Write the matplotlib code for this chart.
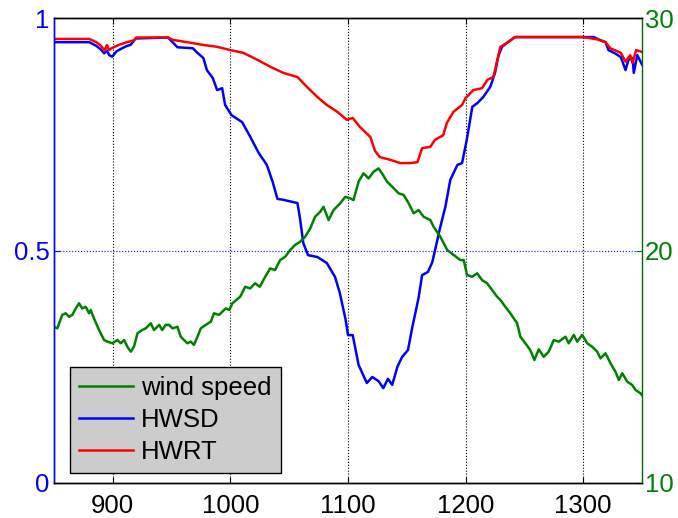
import matplotlib
matplotlib.use("Agg")
import matplotlib.pyplot as plt

plt.rcParams['font.family'] = ['Liberation Sans', 'DejaVu Sans']

# HWSD (left axis)
hwsd_x = [850, 880, 886, 890, 892.6, 895, 897, 899.6, 903, 908, 912, 915, 919.5, 947, 955, 968,
          972, 977, 980, 985, 988.7, 993, 995.5, 1001, 1010, 1017, 1024, 1031, 1036, 1040, 1045,
          1057, 1059, 1062, 1066, 1074, 1082, 1089, 1093, 1098, 1100, 1104, 1109, 1116, 1120.6,
          1126, 1130, 1134, 1137.6, 1142, 1146, 1151, 1154.7, 1160, 1163, 1168, 1171.7, 1176,
          1178.5, 1182.8, 1187, 1193, 1197, 1201, 1205.7, 1210, 1215, 1221, 1225, 1228, 1231,
          1236, 1242, 1300, 1309, 1313, 1319, 1321.5, 1327, 1332, 1336, 1338.5, 1342, 1343, 1346,
          1350]
hwsd_y = [0.948, 0.948, 0.94, 0.932, 0.924, 0.93, 0.92, 0.917, 0.928, 0.935, 0.94, 0.942, 0.956,
          0.958, 0.937, 0.935, 0.925, 0.914, 0.888, 0.871, 0.845, 0.849, 0.813, 0.791, 0.776,
          0.744, 0.710, 0.684, 0.647, 0.611, 0.609, 0.602, 0.572, 0.516, 0.490, 0.486, 0.473,
          0.443, 0.409, 0.351, 0.318, 0.318, 0.254, 0.215, 0.228, 0.219, 0.204, 0.224, 0.211,
          0.250, 0.271, 0.286, 0.335, 0.398, 0.447, 0.454, 0.475, 0.523, 0.551, 0.594, 0.652,
          0.684, 0.688, 0.738, 0.809, 0.817, 0.830, 0.852, 0.882, 0.920, 0.938, 0.948, 0.959,
          0.959, 0.959, 0.954, 0.948, 0.931, 0.924, 0.916, 0.888, 0.910, 0.914, 0.882, 0.920,
          0.900]

# HWRT (left axis)
hwrt_x = [850, 880, 886, 890, 893, 895, 896.8, 899, 905, 912, 918, 920, 947, 951, 968, 977,
          988.7, 1000, 1011, 1023, 1034, 1045, 1057, 1065, 1074, 1082, 1091, 1099, 1104, 1110,
          1119, 1123, 1127, 1136, 1144.5, 1153, 1159, 1163, 1170, 1174, 1181, 1184, 1189.6, 1197,
          1200, 1206.6, 1214, 1218.5, 1223.6, 1227, 1229.6, 1236, 1242, 1300, 1312, 1319, 1323,
          1332, 1336, 1340, 1342, 1345, 1350]
hwrt_y = [0.955, 0.955, 0.948, 0.94, 0.93, 0.942, 0.931, 0.935, 0.942, 0.948, 0.952, 0.958,
          0.958, 0.953, 0.946, 0.942, 0.938, 0.931, 0.925, 0.910, 0.895, 0.882, 0.873, 0.852,
          0.830, 0.813, 0.798, 0.781, 0.785, 0.766, 0.744, 0.714, 0.701, 0.695, 0.688, 0.688,
          0.690, 0.720, 0.723, 0.738, 0.748, 0.774, 0.798, 0.813, 0.828, 0.845, 0.849, 0.867,
          0.873, 0.910, 0.938, 0.948, 0.959, 0.959, 0.954, 0.948, 0.935, 0.925, 0.906, 0.920,
          0.903, 0.931, 0.927]

# wind speed (right axis)
wind_x = [850, 852.8, 857, 860, 862.8, 865.6, 868.5, 871.3, 874, 877, 879.8, 881.2, 884, 888.3,
          892.6, 895.4, 899.6, 903.9, 906.8, 909.6, 912.4, 915.3, 918, 921, 925, 928, 932.3, 935,
          939.4, 942, 945, 947.9, 950.7, 955, 957.8, 960.6, 963.4, 966.3, 969, 972, 974.8, 979,
          983.4, 986, 990.4, 993.2, 996, 999, 1001.7, 1008.3, 1012.6, 1016.8, 1021, 1025, 1029.6,
          1033.8, 1038, 1042.3, 1046.6, 1050.8, 1055, 1059.4, 1063.6, 1067.9, 1072, 1076.4, 1079.2,
          1083.5, 1087.7, 1093.4, 1097.7, 1101.9, 1104.7, 1109, 1113.2, 1117.5, 1121.8, 1126,
          1128.9, 1133.2, 1138.8, 1143, 1147.3, 1151.6, 1155.8, 1160, 1164.3, 1170, 1172.8,
          1178.5, 1184.4, 1189.8, 1195.5, 1198.4, 1201.2, 1205.5, 1209.8, 1214, 1218.3, 1222.5,
          1226.8, 1229.6, 1233.8, 1238, 1243.8, 1246.6, 1250.8, 1255, 1258.5, 1262.2, 1266.4,
          1270.7, 1275, 1279.2, 1284.9, 1287.7, 1292, 1294.9, 1299.1, 1303.4, 1307.6, 1311.9,
          1314.7, 1319, 1323.2, 1327.4, 1330.3, 1333.2, 1337.4, 1341.6, 1344.5, 1348.7, 1350]
wind_y = [16.72, 16.65, 17.23, 17.30, 17.15, 17.23, 17.51, 17.73, 17.51, 17.58, 17.30, 17.44,
          17.08, 16.58, 16.15, 16.08, 16.01, 16.15, 16.01, 16.15, 15.86, 15.65, 15.86, 16.44,
          16.58, 16.65, 16.87, 16.58, 16.80, 16.58, 16.80, 16.80, 16.65, 16.72, 16.29, 16.15,
          16.01, 16.08, 15.94, 16.29, 16.65, 16.80, 16.94, 17.30, 17.23, 17.37, 17.51, 17.44,
          17.73, 18.01, 18.44, 18.37, 18.59, 18.44, 18.87, 19.23, 19.16, 19.59, 19.73, 20.02,
          20.24, 20.38, 20.59, 20.95, 21.45, 21.67, 21.88, 21.31, 21.74, 22.03, 22.31, 22.24,
          22.17, 22.96, 23.32, 23.10, 23.39, 23.53, 23.32, 22.96, 22.68, 22.46, 22.39, 22.03,
          21.60, 21.74, 21.45, 21.31, 21.02, 20.59, 20.02, 19.81, 19.59, 19.59, 18.95, 18.87,
          19.02, 18.73, 18.59, 18.30, 18.01, 17.87, 17.58, 17.30, 16.87, 16.29, 16.01, 15.72,
          15.29, 15.75, 15.43, 15.65, 16.15, 16.08, 16.29, 16.01, 16.37, 16.08, 16.37, 16.01,
          15.86, 15.65, 15.36, 15.58, 15.15, 14.79, 14.43, 14.72, 14.36, 14.22, 14.00, 13.86,
          13.78]

x_ticks = [900, 1000, 1100, 1200, 1300]
left_ticks = [0, 0.5, 1]
left_labels = ['0', '0.5', '1']
right_ticks = [10, 20, 30]

GREEN = (0, 0.5, 0)
FS = 18.5

fig = plt.figure(figsize=(6.78, 5.18), dpi=100)
ax = fig.add_axes([54/678, 35/518, 588/678, 465/518])
ax2 = ax.twinx()

l_hwsd, = ax.plot(hwsd_x, hwsd_y, color='blue', lw=1.8)
l_hwrt, = ax.plot(hwrt_x, hwrt_y, color='red', lw=1.8)
l_wind, = ax2.plot(wind_x, wind_y, color=GREEN, lw=1.8)

ax.set_xlim(850, 1350)
ax.set_ylim(0, 1)
ax2.set_ylim(10, 30)
ax.set_xticks(x_ticks)
ax.set_xticklabels([str(v) for v in x_ticks])
ax.set_yticks(left_ticks)
ax.set_yticklabels(left_labels)
ax2.set_yticks(right_ticks)

for v in x_ticks:
    ax.axvline(v, color='black', ls=':', lw=0.8, zorder=0)
ax.axhline(0.5, color='blue', ls=':', lw=0.8, zorder=0)

ax.tick_params(axis='x', direction='in', length=4, labelsize=FS, colors='black', top=True, pad=8)
ax.tick_params(axis='y', direction='in', length=4, labelsize=FS, colors='blue', labelcolor='blue', pad=3)
ax2.tick_params(axis='y', direction='in', length=4, labelsize=FS, colors=GREEN, pad=2)

ax.spines['left'].set_color('blue')
ax2.spines['left'].set_color('blue')
ax2.spines['right'].set_color((0, 0.4, 0))
ax.spines['right'].set_visible(False)
for sp in ax2.spines.values():
    sp.set_linewidth(1.0)
for sp in ax.spines.values():
    sp.set_linewidth(1.0)

leg = ax2.legend([l_wind, l_hwsd, l_hwrt], ['wind speed', 'HWSD', 'HWRT'],
                 loc='lower left', bbox_to_anchor=(0.028, 0.022), borderaxespad=0,
                 fontsize=FS, handlelength=2.1, handletextpad=0.3, labelspacing=0.3,
                 borderpad=0.35, fancybox=False, framealpha=1)
leg.get_frame().set_facecolor('#cccccc')
leg.get_frame().set_edgecolor('black')
leg.get_frame().set_linewidth(1.0)

fig.savefig('out.png', dpi=100)
